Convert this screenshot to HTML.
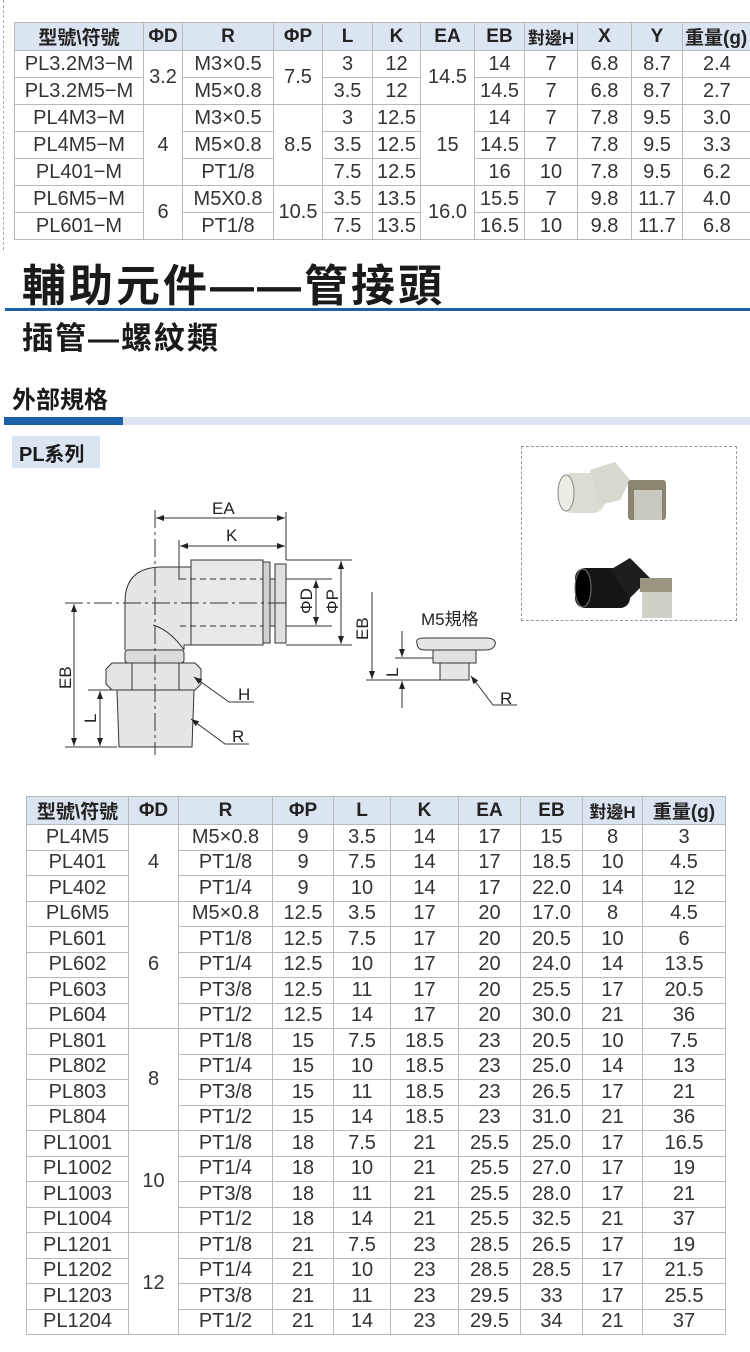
<!DOCTYPE html>
<html><head><meta charset="utf-8">
<style>
body{margin:0;width:750px;height:1352px;background:#fff;position:relative;overflow:hidden;font-family:"Liberation Sans","Noto Sans CJK TC",sans-serif;color:#222}
table{border-collapse:collapse;position:absolute;table-layout:fixed}
td,th{border:1px solid #b9b9b9;text-align:center;padding:0;font-size:20px;color:#333;white-space:nowrap;overflow:hidden}
th{background:#dbe5f1;font-weight:bold;font-size:19px;color:#222}
.t1 td,.t1 th{height:26px}
.t2 td,.t2 th{height:24.5px}
.abs{position:absolute;white-space:nowrap}
</style></head><body>
<div class="abs" style="left:3px;top:0;height:250px;border-left:1px dashed #aaa"></div>

<table class="t1" style="left:14px;top:22px;width:760px">
<colgroup><col style="width:129px"><col style="width:39px"><col style="width:91px"><col style="width:49px"><col style="width:50px"><col style="width:48px"><col style="width:54px"><col style="width:50px"><col style="width:53px"><col style="width:54px"><col style="width:51px"><col style="width:92px"></colgroup>
<tr style="height:28px"><th>型號\符號</th><th>ΦD</th><th>R</th><th>ΦP</th><th>L</th><th>K</th><th>EA</th><th>EB</th><th style="font-size:17px">對邊H</th><th>X</th><th>Y</th><th style="text-align:left;padding-left:2px">重量(g)</th></tr>
<tr><td>PL3.2M3−M</td><td rowspan="2">3.2</td><td>M3×0.5</td><td rowspan="2">7.5</td><td>3</td><td>12</td><td rowspan="2">14.5</td><td>14</td><td>7</td><td>6.8</td><td>8.7</td><td style="text-align:left;padding-left:20px">2.4</td></tr>
<tr><td>PL3.2M5−M</td><td>M5×0.8</td><td>3.5</td><td>12</td><td>14.5</td><td>7</td><td>6.8</td><td>8.7</td><td style="text-align:left;padding-left:20px">2.7</td></tr>
<tr><td>PL4M3−M</td><td rowspan="3">4</td><td>M3×0.5</td><td rowspan="3">8.5</td><td>3</td><td>12.5</td><td rowspan="3">15</td><td>14</td><td>7</td><td>7.8</td><td>9.5</td><td style="text-align:left;padding-left:20px">3.0</td></tr>
<tr><td>PL4M5−M</td><td>M5×0.8</td><td>3.5</td><td>12.5</td><td>14.5</td><td>7</td><td>7.8</td><td>9.5</td><td style="text-align:left;padding-left:20px">3.3</td></tr>
<tr><td>PL401−M</td><td>PT1/8</td><td>7.5</td><td>12.5</td><td>16</td><td>10</td><td>7.8</td><td>9.5</td><td style="text-align:left;padding-left:20px">6.2</td></tr>
<tr><td>PL6M5−M</td><td rowspan="2">6</td><td>M5X0.8</td><td rowspan="2">10.5</td><td>3.5</td><td>13.5</td><td rowspan="2">16.0</td><td>15.5</td><td>7</td><td>9.8</td><td>11.7</td><td style="text-align:left;padding-left:20px">4.0</td></tr>
<tr><td>PL601−M</td><td>PT1/8</td><td>7.5</td><td>13.5</td><td>16.5</td><td>10</td><td>9.8</td><td>11.7</td><td style="text-align:left;padding-left:20px">6.8</td></tr>
</table>

<div class="abs" style="left:22px;top:250px;font-size:44px;font-weight:bold;color:#1a1a1a;letter-spacing:3px">輔助元件——管接頭</div>
<div class="abs" style="left:5px;top:308px;width:745px;height:3px;background:#1a5fa8"></div>
<div class="abs" style="left:22px;top:313px;font-size:31px;font-weight:bold;color:#1a1a1a;letter-spacing:2px">插管—螺紋類</div>
<div class="abs" style="left:12px;top:380px;font-size:24px;font-weight:bold;color:#1a1a1a">外部規格</div>
<div class="abs" style="left:4px;top:417px;width:746px;height:8px;background:#dbe5f1"></div>
<div class="abs" style="left:4px;top:417px;width:119px;height:8px;background:#1a5fa8"></div>
<div class="abs" style="left:12px;top:436px;width:88px;height:32px;background:#dbe5f1"></div>
<div class="abs" style="left:19px;top:438px;font-size:20px;font-weight:bold;color:#1a1a1a">PL系列</div>
<div class="abs" style="left:521px;top:446px;width:214px;height:173px;border:1px dashed #999"></div>

<svg class="abs" style="left:0;top:0" width="750" height="800" viewBox="0 0 750 800">
<defs><marker id="a" markerWidth="8" markerHeight="6" refX="8" refY="3" orient="auto-start-reverse"><path d="M0,0 L8,3 L0,6z" fill="#222"/></marker></defs>
<g stroke="#333" stroke-width="1" fill="none">
<g stroke="none">
<rect x="560" y="473" width="45" height="40" rx="12" fill="#dcdcd2"/>
<ellipse cx="566" cy="493" rx="8" ry="18" fill="#ecece4" stroke="#888"/>
<path d="M590,470 L615,462 L630,480 L620,500 L600,505z" fill="#d8d8ce"/>
<rect x="628" y="480" width="38" height="40" rx="3" fill="#8a8470"/>
<rect x="634" y="490" width="28" height="30" fill="#c9c9c0"/>
<rect x="575" y="568" width="55" height="40" rx="10" fill="#151515"/>
<ellipse cx="583" cy="588" rx="8" ry="19" fill="#000" stroke="#777"/>
<path d="M610,570 L630,558 L650,578 L630,598z" fill="#1e1e1e"/>
<rect x="640" y="578" width="32" height="14" fill="#9a9580"/>
<rect x="642" y="592" width="30" height="26" fill="#d0cfc8"/>
</g>
<path d="M125,650 L125,602 Q125,568 160,567 L191,567 L191,645 L184,645 L184,650" fill="#e6e6e6"/>
<path d="M153,625 Q170,630 184,650" />
<rect x="191" y="560" width="72" height="85" fill="#e8e8e8"/>
<rect x="263" y="562" width="7" height="81" fill="#d0d0d0"/>
<rect x="275" y="564" width="11" height="79" fill="#e0e0e0"/>
<rect x="270" y="579" width="5" height="47" fill="#ddd"/>
<rect x="125" y="650" width="59" height="13" rx="3" fill="#dcdcdc"/>
<path d="M106,669 L112,663 L195,663 L201,669 L201,684 L195,690 L112,690 L106,684z" fill="#e4e4e4"/>
<line x1="132" y1="663" x2="132" y2="690"/><line x1="179" y1="663" x2="179" y2="690"/>
<path d="M117,690 L194,690 L192,747 L119,747z" fill="#e6e6e6"/>
<line x1="180" y1="579" x2="263" y2="579" stroke-dasharray="6,4"/>
<line x1="180" y1="626" x2="263" y2="626" stroke-dasharray="6,4"/>
<line x1="155" y1="510" x2="155" y2="755" stroke-dasharray="18,4,3,4"/>
<line x1="65" y1="603" x2="290" y2="603" stroke-dasharray="18,4,3,4"/>
<line x1="286" y1="512" x2="286" y2="560"/>
<line x1="179" y1="540" x2="179" y2="580"/>
<line x1="156" y1="518" x2="285" y2="518" marker-start="url(#a)" marker-end="url(#a)"/>
<line x1="180" y1="546" x2="285" y2="546" marker-start="url(#a)" marker-end="url(#a)"/>
<line x1="286" y1="560" x2="352" y2="560"/><line x1="286" y1="645" x2="352" y2="645"/>
<line x1="286" y1="579" x2="332" y2="579"/><line x1="286" y1="626" x2="332" y2="626"/>
<line x1="316" y1="580" x2="316" y2="625" marker-start="url(#a)" marker-end="url(#a)"/>
<line x1="341" y1="561" x2="341" y2="644" marker-start="url(#a)" marker-end="url(#a)"/>
<line x1="74" y1="604" x2="74" y2="746" marker-start="url(#a)" marker-end="url(#a)"/>
<line x1="65" y1="747" x2="117" y2="747"/>
<line x1="88" y1="690" x2="117" y2="690"/>
<line x1="100" y1="691" x2="100" y2="746" marker-start="url(#a)" marker-end="url(#a)"/>
<polyline points="194,677 229,702 254,702" marker-start="url(#a)"/>
<polyline points="191,719 225,744 249,744" marker-start="url(#a)"/>
<path d="M417,643 Q415,638 425,638 L485,638 Q497,638 495,645 Q493,650 485,650 L425,650 Q417,650 417,643z" fill="#e6e6e6"/>
<rect x="433" y="650" width="43" height="13" fill="#e0e0e0"/>
<rect x="440" y="663" width="29" height="17" fill="#e6e6e6"/>
<line x1="372" y1="592" x2="372" y2="679" marker-end="url(#a)"/>
<line x1="366" y1="680" x2="440" y2="680"/>
<line x1="395" y1="658" x2="433" y2="658"/>
<line x1="402" y1="631" x2="402" y2="657" marker-end="url(#a)"/>
<line x1="402" y1="708" x2="402" y2="681" marker-end="url(#a)"/>
<polyline points="471,676 493,705 517,705" marker-start="url(#a)"/>
</g>
<g font-family="Liberation Sans, Noto Sans CJK TC, sans-serif" font-size="17" fill="#222" stroke="none">
<text x="212" y="514">EA</text>
<text x="226" y="541">K</text>
<text x="238" y="700">H</text>
<text x="232" y="742">R</text>
<text x="500" y="704">R</text>
<text x="421" y="625">M5規格</text>
<text transform="translate(71,689) rotate(-90)">EB</text>
<text transform="translate(96,723) rotate(-90)">L</text>
<text transform="translate(368,640) rotate(-90)">EB</text>
<text transform="translate(398,677) rotate(-90)">L</text>
<text transform="translate(312,614) rotate(-90)">ΦD</text>
<text transform="translate(338,614) rotate(-90)">ΦP</text>
</g>
</svg>

<table class="t2" style="left:26px;top:796px;width:699px">
<colgroup><col style="width:102px"><col style="width:50px"><col style="width:94px"><col style="width:61px"><col style="width:57px"><col style="width:68px"><col style="width:62px"><col style="width:62px"><col style="width:60px"><col style="width:83px"></colgroup>
<tr style="height:26px"><th>型號\符號</th><th>ΦD</th><th>R</th><th>ΦP</th><th>L</th><th>K</th><th>EA</th><th>EB</th><th style="font-size:17px">對邊H</th><th>重量(g)</th></tr>
<tr><td>PL4M5</td><td rowspan="3">4</td><td>M5×0.8</td><td>9</td><td>3.5</td><td>14</td><td>17</td><td>15</td><td>8</td><td>3</td></tr>
<tr><td>PL401</td><td>PT1/8</td><td>9</td><td>7.5</td><td>14</td><td>17</td><td>18.5</td><td>10</td><td>4.5</td></tr>
<tr><td>PL402</td><td>PT1/4</td><td>9</td><td>10</td><td>14</td><td>17</td><td>22.0</td><td>14</td><td>12</td></tr>
<tr><td>PL6M5</td><td rowspan="5">6</td><td>M5×0.8</td><td>12.5</td><td>3.5</td><td>17</td><td>20</td><td>17.0</td><td>8</td><td>4.5</td></tr>
<tr><td>PL601</td><td>PT1/8</td><td>12.5</td><td>7.5</td><td>17</td><td>20</td><td>20.5</td><td>10</td><td>6</td></tr>
<tr><td>PL602</td><td>PT1/4</td><td>12.5</td><td>10</td><td>17</td><td>20</td><td>24.0</td><td>14</td><td>13.5</td></tr>
<tr><td>PL603</td><td>PT3/8</td><td>12.5</td><td>11</td><td>17</td><td>20</td><td>25.5</td><td>17</td><td>20.5</td></tr>
<tr><td>PL604</td><td>PT1/2</td><td>12.5</td><td>14</td><td>17</td><td>20</td><td>30.0</td><td>21</td><td>36</td></tr>
<tr><td>PL801</td><td rowspan="4">8</td><td>PT1/8</td><td>15</td><td>7.5</td><td>18.5</td><td>23</td><td>20.5</td><td>10</td><td>7.5</td></tr>
<tr><td>PL802</td><td>PT1/4</td><td>15</td><td>10</td><td>18.5</td><td>23</td><td>25.0</td><td>14</td><td>13</td></tr>
<tr><td>PL803</td><td>PT3/8</td><td>15</td><td>11</td><td>18.5</td><td>23</td><td>26.5</td><td>17</td><td>21</td></tr>
<tr><td>PL804</td><td>PT1/2</td><td>15</td><td>14</td><td>18.5</td><td>23</td><td>31.0</td><td>21</td><td>36</td></tr>
<tr><td>PL1001</td><td rowspan="4">10</td><td>PT1/8</td><td>18</td><td>7.5</td><td>21</td><td>25.5</td><td>25.0</td><td>17</td><td>16.5</td></tr>
<tr><td>PL1002</td><td>PT1/4</td><td>18</td><td>10</td><td>21</td><td>25.5</td><td>27.0</td><td>17</td><td>19</td></tr>
<tr><td>PL1003</td><td>PT3/8</td><td>18</td><td>11</td><td>21</td><td>25.5</td><td>28.0</td><td>17</td><td>21</td></tr>
<tr><td>PL1004</td><td>PT1/2</td><td>18</td><td>14</td><td>21</td><td>25.5</td><td>32.5</td><td>21</td><td>37</td></tr>
<tr><td>PL1201</td><td rowspan="4">12</td><td>PT1/8</td><td>21</td><td>7.5</td><td>23</td><td>28.5</td><td>26.5</td><td>17</td><td>19</td></tr>
<tr><td>PL1202</td><td>PT1/4</td><td>21</td><td>10</td><td>23</td><td>28.5</td><td>28.5</td><td>17</td><td>21.5</td></tr>
<tr><td>PL1203</td><td>PT3/8</td><td>21</td><td>11</td><td>23</td><td>29.5</td><td>33</td><td>17</td><td>25.5</td></tr>
<tr><td>PL1204</td><td>PT1/2</td><td>21</td><td>14</td><td>23</td><td>29.5</td><td>34</td><td>21</td><td>37</td></tr>
</table>
</body></html>
